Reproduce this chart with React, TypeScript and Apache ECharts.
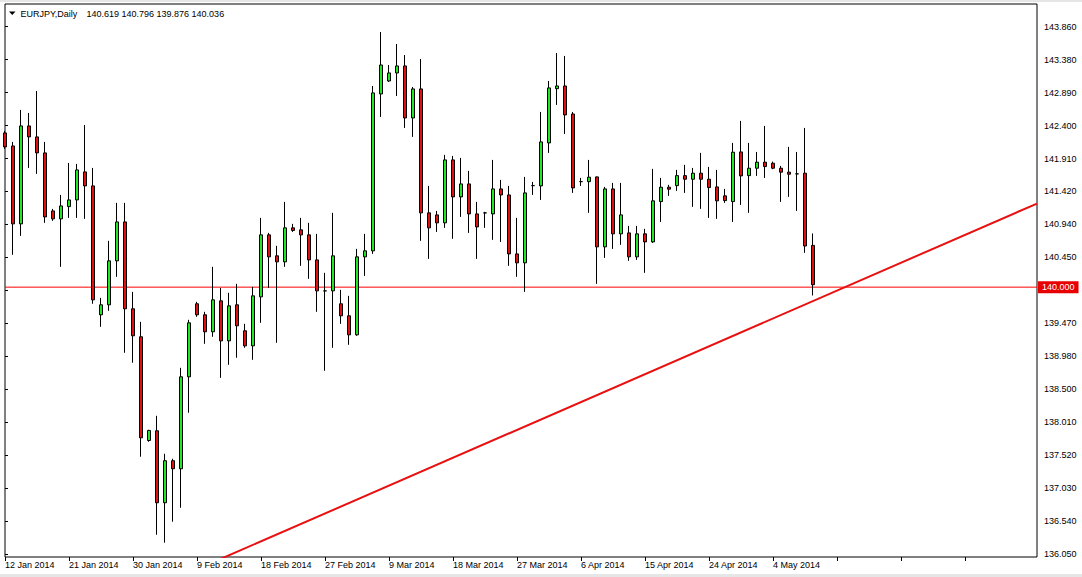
import React, { useEffect, useRef } from "react";
import * as echarts from "echarts";

// ---- data ----
const symbol = "EURJPY";
const period = "Daily";

const tradingDays: [string, number[]][] = [
  ["Jan", [12, 13, 14, 15, 16, 17, 19, 20, 21, 22, 23, 24, 26, 27, 28, 29, 30, 31]],
  ["Feb", [2, 3, 4, 5, 6, 7, 9, 10, 11, 12, 13, 14, 16, 17, 18, 19, 20, 21, 23, 24, 25, 26, 27, 28]],
  ["Mar", [2, 3, 4, 5, 6, 7, 9, 10, 11, 12, 13, 14, 16, 17, 18, 19, 20, 21, 23, 24, 25, 26, 27, 28, 30, 31]],
  ["Apr", [1, 2, 3, 4, 6, 7, 8, 9, 10, 11, 13, 14, 15, 16, 17, 18, 20, 21, 22, 23, 24, 25, 27, 28, 29, 30]],
  ["May", [1, 2, 4, 5, 6, 7, 8, 9]],
];
const year = 2014;
const futureSlots = 28; // empty space to the right of the last bar

const opens = [
  142.286, 142.093, 140.938, 142.39, 142.227, 141.99, 141.13, 141.012, 141.194, 141.293,
  141.708, 141.501, 139.59, 139.738, 140.39, 140.967, 139.679, 139.264, 137.727, 137.871,
  136.804, 137.427, 137.308, 138.671, 139.753, 139.59, 139.338, 139.797, 139.204, 139.738,
  139.353, 139.13, 139.856, 140.775, 140.464, 140.375, 140.879, 140.849, 140.775, 140.404,
  139.945, 139.945, 139.753, 139.575, 139.293, 140.449, 140.538, 142.864, 143.056, 143.175,
  143.279, 142.508, 142.938, 141.101, 141.071, 140.953, 141.886, 141.338, 141.53, 141.086,
  141.101, 141.086, 141.456, 141.367, 140.493, 140.36, 141.505, 141.501, 142.138, 142.942,
  142.982, 142.567, 141.564, 141.564, 141.634, 140.597, 141.456, 140.79, 140.804, 140.449,
  140.79, 140.671, 141.268, 141.481, 141.505, 141.653, 141.6, 141.689, 141.6, 141.486,
  141.353, 141.268, 142.004, 141.653, 141.763, 141.852, 141.837, 141.763, 141.704, 141.679,
  141.689, 140.619,
];
const highs = [
  142.316, 142.153, 142.627, 142.582, 142.908, 142.153, 141.16, 141.367, 141.841, 141.827,
  142.404, 141.767, 139.841, 140.686, 141.249, 141.249, 139.93, 139.486, 137.886, 138.093,
  137.53, 137.456, 138.804, 139.516, 139.782, 139.634, 140.301, 139.99, 139.916, 140.049,
  139.456, 140.004, 141.027, 140.804, 140.612, 141.264, 140.938, 141.027, 140.953, 140.79,
  140.212, 141.101, 139.96, 139.871, 140.567, 140.79, 142.982, 143.782, 143.293, 143.604,
  143.441, 142.967, 143.382, 141.501, 141.13, 141.96, 141.945, 141.916, 141.723, 141.264,
  141.116, 141.886, 141.59, 141.501, 141.027, 141.634, 141.56, 142.597, 143.056, 143.471,
  143.427, 142.597, 141.619, 141.886, 141.64, 141.486, 141.545, 141.545, 140.908, 140.908,
  140.864, 141.753, 141.619, 141.516, 141.738, 141.812, 141.767, 141.99, 141.782, 141.738,
  141.456, 142.138, 142.464, 142.138, 142.004, 142.39, 141.861, 141.797, 142.079, 142.004,
  142.36, 140.796,
];
const lows = [
  142.049, 140.479, 140.76, 141.767, 141.679, 140.953, 140.982, 140.301, 141.027, 141.027,
  141.012, 139.753, 139.412, 139.649, 140.153, 139.027, 138.879, 137.486, 137.708, 136.33,
  136.212, 136.523, 136.73, 138.138, 139.56, 139.16, 139.264, 138.656, 138.849, 138.953,
  139.101, 138.923, 139.471, 139.99, 139.175, 140.301, 140.819, 140.316, 140.123, 139.634,
  138.76, 139.101, 139.456, 139.145, 139.279, 140.167, 140.493, 142.523, 143.041, 142.834,
  142.36, 142.227, 140.686, 140.419, 140.819, 140.879, 140.716, 141.041, 140.804, 140.419,
  140.879, 140.701, 140.671, 140.316, 140.153, 139.93, 141.367, 141.293, 141.99, 142.701,
  142.271, 141.397, 141.501, 141.101, 140.049, 140.434, 140.567, 140.627, 140.39, 140.404,
  140.212, 140.656, 140.967, 141.353, 141.427, 141.397, 141.19, 141.16, 141.027, 141.012,
  141.249, 140.967, 141.219, 141.101, 141.649, 141.619, 141.748, 141.264, 141.338, 141.13,
  140.508, 139.876,
];
const closes = [
  142.079, 140.938, 142.39, 142.227, 141.99, 141.041, 141.012, 141.204, 141.293, 141.738,
  141.501, 139.812, 139.738, 140.39, 140.967, 139.679, 139.279, 137.767, 137.876, 136.804,
  137.427, 137.308, 138.671, 139.471, 139.59, 139.338, 139.812, 139.204, 139.723, 139.427,
  139.13, 139.871, 140.775, 140.449, 140.375, 140.879, 140.841, 140.775, 140.404, 139.945,
  139.945, 140.464, 139.575, 139.293, 140.449, 140.538, 142.879, 143.293, 143.175, 143.279,
  142.508, 142.938, 141.101, 140.879, 140.953, 141.886, 141.338, 141.53, 141.086, 140.893,
  141.101, 141.456, 141.367, 140.493, 140.36, 141.397, 141.505, 142.153, 142.953, 142.982,
  142.553, 141.471, 141.564, 141.63, 140.597, 141.456, 140.79, 141.071, 140.449, 140.79,
  140.671, 141.279, 141.481, 141.452, 141.653, 141.6, 141.689, 141.6, 141.476, 141.279,
  141.283, 142.0, 141.649, 141.763, 141.852, 141.787, 141.763, 141.704, 141.674, 141.679,
  140.61, 140.036,
];

// price-axis tick labels, bottom to top (the one at 139.960 is covered by the 140.000 marker)
const priceTickLabels = [
  "136.050", "136.540", "137.030", "137.520", "138.010", "138.500", "138.980", "139.470",
  "", "140.450", "140.940", "141.420", "141.910", "142.400", "142.890", "143.380", "143.860",
];

// horizontal level line and the hand-drawn trend line (bar index, price)
const levelPrice = 140.0;
const trendLine: [number, number][] = [
  [24, 135.819],
  [129, 141.239],
];

const priceMin = 136.0;
const priceMax = 144.197;

// ---- styles ----
const FONT = "'Liberation Sans', Arial, sans-serif";
const BULL = "#22e622";
const BEAR = "#e01010";
const LINE_RED = "#ff0000";

const dates: string[] = [];
tradingDays.forEach(([m, ds]) => ds.forEach((d) => dates.push(`${d} ${m} ${year}`)));
const categories = dates.concat(Array.from({ length: futureSlots }, () => ""));

const last = closes.length - 1;
const fmt = (v: number) => v.toFixed(3);

export default function App() {
  const ref = useRef<HTMLDivElement>(null);
  useEffect(() => {
    document.body.style.margin = "0";
    const chart = echarts.init(ref.current!, null, { renderer: "svg", width: 1082, height: 577 });
    const option: any = {
      animation: false,
      backgroundColor: "#ffffff",
      textStyle: { fontFamily: FONT },
      grid: [
        { left: 5, right: 45, top: 4, bottom: 20, show: true, borderColor: "#000", borderWidth: 1, backgroundColor: "transparent" },
        { left: 5, right: 45, top: 26.7, bottom: 23.1, show: false },
      ],
      xAxis: [
        {
          type: "category",
          gridIndex: 0,
          data: categories,
          boundaryGap: false,
          axisLine: { show: false },
          axisTick: { show: true, interval: 7, length: 4, lineStyle: { color: "#000", width: 1 } },
          axisLabel: { interval: 7, align: "left", margin: 3, color: "#000", fontSize: 9, fontFamily: FONT, showMaxLabel: false },
          splitLine: { show: false },
        },
        { type: "value", gridIndex: 1, show: false, min: 0, max: 1 },
      ],
      yAxis: [
        { type: "value", gridIndex: 0, position: "right", min: priceMin, max: priceMax, show: false, splitLine: { show: false } },
        {
          type: "value",
          gridIndex: 1,
          position: "right",
          min: 0,
          max: priceTickLabels.length - 1,
          interval: 1,
          axisLine: { show: false },
          axisTick: { show: true, length: 3, lineStyle: { color: "#000", width: 1 } },
          axisLabel: {
            margin: 7,
            color: "#000",
            fontSize: 9,
            fontFamily: FONT,
            formatter: (v: number) => priceTickLabels[Math.round(v)] ?? "",
          },
          splitLine: { show: false },
        },
      ],
      series: [
        {
          type: "line",
          name: "level",
          xAxisIndex: 0,
          yAxisIndex: 0,
          data: [
            [0, levelPrice],
            [categories.length - 1, levelPrice],
          ],
          symbol: "none",
          silent: true,
          z: 1,
          color: LINE_RED,
          itemStyle: { color: LINE_RED },
          lineStyle: { color: LINE_RED, width: 1, type: "solid" },
          endLabel: {
            show: true,
            distance: 1,
            formatter: () => fmt(levelPrice),
            color: "#ffffff",
            backgroundColor: "#e80000",
            padding: [2, 4, 1, 4],
            fontSize: 9,
            fontFamily: FONT,
          },
        },
        {
          type: "line",
          name: "trend",
          xAxisIndex: 0,
          yAxisIndex: 0,
          data: trendLine,
          symbol: "none",
          clip: true,
          silent: true,
          z: 1,
          color: "#e81010",
          itemStyle: { color: "#e81010" },
          lineStyle: { color: "#e81010", width: 2 },
        },
        {
          type: "candlestick",
          xAxisIndex: 0,
          yAxisIndex: 0,
          barWidth: 4,
          z: 2,
          data: dates.map((_, i) => [opens[i], closes[i], lows[i], highs[i]]),
          itemStyle: {
            color: BULL,
            color0: BEAR,
            borderColor: "#000",
            borderColor0: "#000",
            borderColorDoji: "#000",
            borderWidth: 1,
          },
        },
      ],
      graphic: [
        { type: "rect", shape: { x: 0, y: 0, width: 1082, height: 2 }, style: { fill: "#e6e6e6" }, silent: true },
        { type: "rect", shape: { x: 0, y: 574, width: 1082, height: 3 }, style: { fill: "#e6e6e6" }, silent: true },
        { type: "polygon", shape: { points: [[9, 11.5], [15.5, 11.5], [12.25, 15]] }, style: { fill: "#000" }, silent: true },
        {
          type: "text",
          x: 20.5,
          y: 13.5,
          style: { text: `${symbol},${period}`, fill: "#000", font: `9px ${FONT}`, textVerticalAlign: "middle" },
          silent: true,
        },
        {
          type: "text",
          x: 86.5,
          y: 13.5,
          style: {
            text: `${fmt(opens[last])} ${fmt(highs[last])} ${fmt(lows[last])} ${fmt(closes[last])}`,
            fill: "#000",
            font: `9px ${FONT}`,
            textVerticalAlign: "middle",
          },
          silent: true,
        },
      ],
    };
    chart.setOption(option);
    return () => chart.dispose();
  }, []);
  return <div ref={ref} style={{ position: "absolute", left: 0, top: 0, width: 1082, height: 577 }} />;
}
